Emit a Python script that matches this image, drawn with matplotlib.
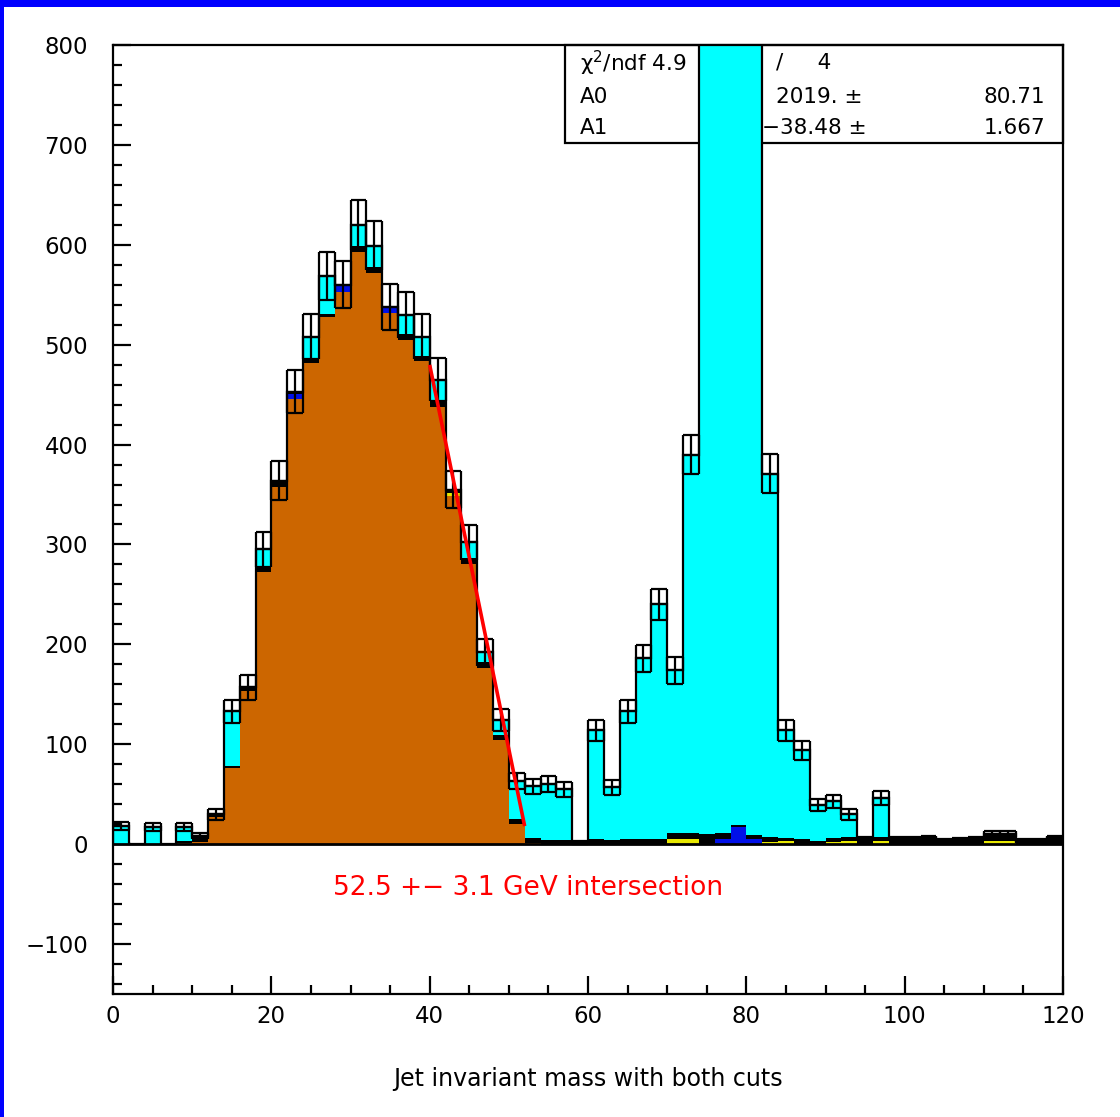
import numpy as np
import matplotlib
matplotlib.use("Agg")
import matplotlib.pyplot as plt
from matplotlib.patches import Rectangle

# ---------------- data ----------------
edges = np.arange(0, 122, 2)          # 60 bins of 2 GeV, 0..120
orange = [0, 0, 0, 0, 1, 2, 27, 76, 153, 272,
          358, 446, 482, 528, 553, 593, 572, 532, 505, 484,
          438, 349, 280, 176, 104, 20, 1, 0, 0, 0,
          0, 0, 0, 0, 0, 0, 0, 0, 0, 0,
          0, 0, 0, 0, 0, 0, 0, 0, 0, 0,
          0, 0, 0, 0, 0, 0, 0, 0, 0, 0]
blue = [0, 0, 0, 0, 0, 0, 0, 0, 0, 0,
        0, 5, 0, 0, 6, 0, 0, 5, 0, 0,
        0, 0, 0, 0, 0, 0, 0, 0, 0, 0,
        0, 0, 0, 0, 0, 0, 0, 0, 5, 17,
        5, 0, 0, 0, 0, 0, 0, 0, 0, 0,
        0, 0, 0, 0, 0, 0, 0, 0, 0, 0]
yellow = [0, 0, 0, 0, 0, 0, 0, 0, 0, 0,
          0, 0, 0, 0, 0, 0, 0, 0, 0, 0,
          0, 3, 0, 0, 0, 0, 0, 0, 0, 0,
          0, 0, 0, 0, 0, 5, 5, 0, 0, 0,
          0, 2, 3, 0, 0, 2, 3, 0, 3, 0,
          0, 0, 0, 0, 0, 3, 3, 0, 0, 0]
black = [0, 0, 0, 0, 2, 6, 3, 2, 4, 6,
         6, 2, 5, 3, 1, 6, 6, 1, 6, 5,
         6, 3, 6, 6, 5, 5, 5, 4, 4, 2,
         5, 4, 5, 5, 5, 6, 6, 10, 6, 2,
         4, 5, 3, 5, 3, 4, 4, 5, 4, 5,
         5, 6, 3, 4, 5, 7, 7, 3, 3, 6]
cyan = [18, 0, 17, 0, 14, 0, 0, 55, 0, 17,
        0, 0, 21, 38, 0, 21, 21, 0, 19, 19,
        21, 0, 16, 10, 15, 38, 52, 56, 51, 0,
        109, 53, 128, 181, 235, 163, 379, 900, 1200, 1300,
        1000, 364, 108, 89, 36, 37, 23, 0, 39, 0,
        0, 0, 0, 0, 0, 0, 0, 0, 0, 0]

x_ticks = [0, 20, 40, 60, 80, 100, 120]
y_ticks = [-100, 0, 100, 200, 300, 400, 500, 600, 700, 800]

fit_A0, fit_A0_err = 2019.0, 80.71
fit_A1, fit_A1_err = -38.48, 1.667
fit_range = [40.0, 52.0]

x_label = "Jet invariant mass with both cuts"
note_text = "52.5 +\u2212 3.1 GeV intersection"

# ---------------- figure ----------------
W, H = 1120, 1117
fig = plt.figure(figsize=(W / 100, H / 100), dpi=100)
fig.patch.set_facecolor("white")
ax = fig.add_axes([113 / W, (H - 994) / H, 950 / W, 949 / H])
ax.set_xlim(0, 120)
ax.set_ylim(-150, 800)

layers = [(orange, "#CC6600"), (blue, "#0010E8"), (yellow, "#E8E800"),
          (black, "#000000"), (cyan, "#00FFFF")]
left = edges[:-1]
width = np.diff(edges)
bottom = np.zeros(len(left))
for vals, col in layers:
    v = np.asarray(vals, dtype=float)
    ax.bar(left, v, width=width, bottom=bottom, align="edge",
           color=col, edgecolor="none", linewidth=0, zorder=3)
    bottom = bottom + v
total = bottom

# outline
ax.stairs(total, edges, color="black", linewidth=1.6, baseline=0, zorder=4)

# error boxes
m = total > 0
err = np.sqrt(total[m])
lo, hi = total[m] - err, total[m] + err
lx, rx = left[m], left[m] + width[m]
cx = left[m] + width[m] / 2
ax.hlines(np.concatenate([hi, lo, total[m]]), np.concatenate([lx, lx, lx]),
          np.concatenate([rx, rx, rx]), color="black", linewidth=1.6, zorder=5)
ax.vlines(np.concatenate([cx, lx, rx]), np.concatenate([lo, lo, lo]),
          np.concatenate([hi, hi, hi]), color="black", linewidth=1.6, zorder=5)

# baseline
ax.axhline(0, color="black", linewidth=2.0, zorder=4)

# fit line
xf = np.array(fit_range)
ax.plot(xf, fit_A0 + fit_A1 * xf, color="#FF0000", linewidth=2.6, zorder=6,
        solid_capstyle="butt")

# red note
ax.text(27.8, -44, note_text, color="#FF0000", fontsize=19,
        ha="left", va="center", zorder=7)

# stats box (behind the histogram)
x0 = (565 - 113) / 950
ybox = (994 - 143) / 949
ax.add_patch(Rectangle((x0, ybox), 1 - x0, 1 - ybox, transform=ax.transAxes,
                       facecolor="white", edgecolor="black", linewidth=1.6,
                       zorder=1.5, clip_on=False))
fs = 15.5
def fx(px):
    return (px - 113) / 950
def fy(py):
    return (994 - py) / 949
ax.text(fx(580), fy(63), "\u03c7$^{2}$/ndf 4.9", transform=ax.transAxes,
        fontsize=fs, ha="left", va="center", zorder=2)
ax.text(fx(776), fy(63), "/     4", transform=ax.transAxes,
        fontsize=fs, ha="left", va="center", zorder=2)
ax.text(fx(580), fy(97), "A0", transform=ax.transAxes,
        fontsize=fs, ha="left", va="center", zorder=2)
ax.text(fx(776), fy(97), f"{fit_A0:.0f}. \u00b1", transform=ax.transAxes,
        fontsize=fs, ha="left", va="center", zorder=2)
ax.text(fx(1045), fy(97), f"{fit_A0_err:.2f}", transform=ax.transAxes,
        fontsize=fs, ha="right", va="center", zorder=2)
ax.text(fx(580), fy(128), "A1", transform=ax.transAxes,
        fontsize=fs, ha="left", va="center", zorder=2)
ax.text(fx(762), fy(128), f"\u2212{abs(fit_A1):.2f} \u00b1", transform=ax.transAxes,
        fontsize=fs, ha="left", va="center", zorder=2)
ax.text(fx(1045), fy(128), f"{fit_A1_err:.3f}", transform=ax.transAxes,
        fontsize=fs, ha="right", va="center", zorder=2)

# axes styling
for s in ax.spines.values():
    s.set_linewidth(1.6)
    s.set_color("black")
    s.set_zorder(8)
ax.set_xticks(x_ticks)
ax.set_yticks(y_ticks)
ax.set_xticks(np.arange(0, 121, 5), minor=True)
ax.set_yticks(np.arange(-140, 801, 20), minor=True)
ax.tick_params(axis="both", which="major", direction="in", length=13, width=1.6,
               labelsize=16.5, top=False, right=False)
ax.tick_params(axis="both", which="minor", direction="in", length=6.5, width=1.6,
               top=False, right=False)
ax.tick_params(axis="y", which="major", pad=18)
ax.tick_params(axis="x", which="major", pad=8)
ax.set_xlabel(x_label, fontsize=17, labelpad=28)
ax.set_facecolor("white")

# blue frame strips
fig.patches.append(Rectangle((0, 1 - 7 / H), 1, 7 / H, transform=fig.transFigure,
                             facecolor="#0000FF", edgecolor="none", zorder=10))
fig.patches.append(Rectangle((0, 0), 4 / W, 1, transform=fig.transFigure,
                             facecolor="#0000FF", edgecolor="none", zorder=10))

fig.savefig("out.png", dpi=100, facecolor="white")
